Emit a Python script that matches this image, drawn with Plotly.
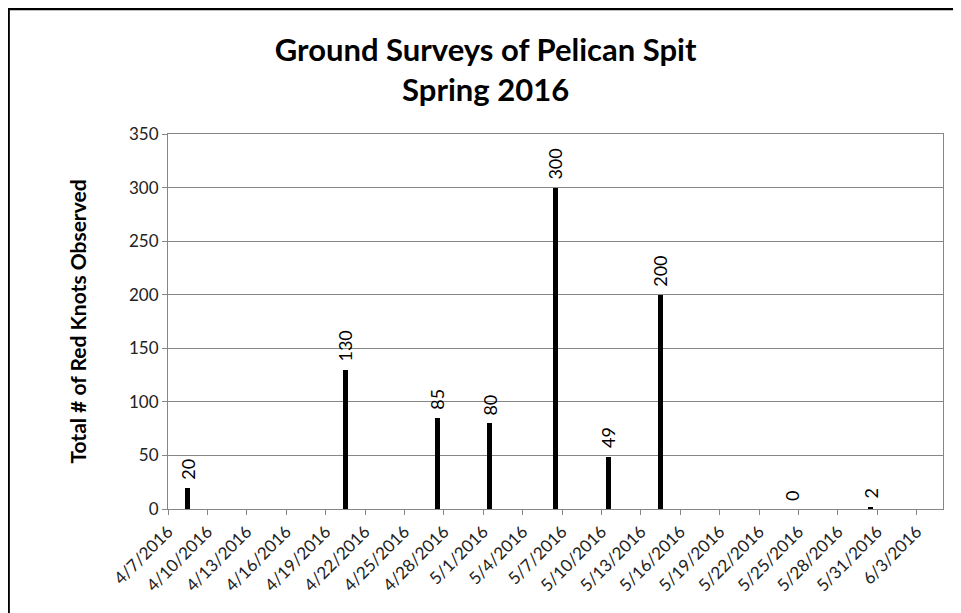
import plotly.graph_objects as go
import pandas as pd

# survey dates and counts
survey_dates = ["2016-04-08", "2016-04-20", "2016-04-27", "2016-05-01", "2016-05-06",
                "2016-05-10", "2016-05-14", "2016-05-24", "2016-05-30"]
red_knots = [20, 130, 85, 80, 300, 49, 200, 0, 2]

x_start = "2016-04-07"
x_end = "2016-06-05"

# excel date axis puts each day's bar in the middle of its day slot
bar_x = pd.to_datetime(survey_dates) + pd.Timedelta(hours=12)

font_family = "Lato, 'Open Sans', sans-serif"
grid_color = "#868686"

fig = go.Figure()
fig.add_trace(go.Bar(
    x=bar_x,
    y=red_knots,
    width=0.38 * 86400000,
    marker=dict(color="black", line=dict(width=0)),
    showlegend=False,
))

# data labels, rotated like the excel ones
for xd, v in zip(bar_x, red_knots):
    fig.add_annotation(
        x=xd, y=v, text=str(v),
        textangle=-90, showarrow=False,
        yanchor="bottom", yshift=6,
        font=dict(family=font_family, size=18, color="black"),
    )

# outer chart frame
fig.add_shape(type="rect", xref="paper", yref="paper",
              x0=-0.206, x1=1.2, y0=-0.5, y1=1.334,
              line=dict(color="black", width=3), layer="above")

fig.update_layout(
    width=961,
    height=613,
    margin=dict(l=160, r=26, t=126, b=112),
    plot_bgcolor="white",
    paper_bgcolor="white",
    title=dict(
        text="<b>Ground Surveys of Pelican Spit<br>Spring 2016</b>",
        x=0.497, xanchor="center", y=0.914, yanchor="middle",
        font=dict(family=font_family, size=31, color="black"),
    ),
    font=dict(family=font_family, color="black"),
    bargap=0,
)
fig.update_xaxes(
    type="date",
    range=[x_start, x_end],
    tick0=x_start,
    dtick=3 * 86400000,
    tickformat="%-m/%-d/%Y",
    tickangle=-45,
    ticks="outside",
    ticklen=5,
    tickcolor=grid_color,
    showline=True,
    linecolor=grid_color,
    mirror=True,
    showgrid=False,
    tickfont=dict(family=font_family, size=17, color="#222222"),
)
fig.update_yaxes(
    range=[0, 350],
    dtick=50,
    ticks="outside",
    ticklen=5,
    tickcolor=grid_color,
    showline=True,
    linecolor=grid_color,
    mirror=True,
    showgrid=True,
    gridcolor=grid_color,
    zeroline=False,
    tickfont=dict(family=font_family, size=17, color="#222222"),
    title=dict(text="<b>Total # of Red Knots Observed</b>",
               font=dict(family=font_family, size=21, color="black"),
               standoff=36),
)

fig.write_html("out.html")
